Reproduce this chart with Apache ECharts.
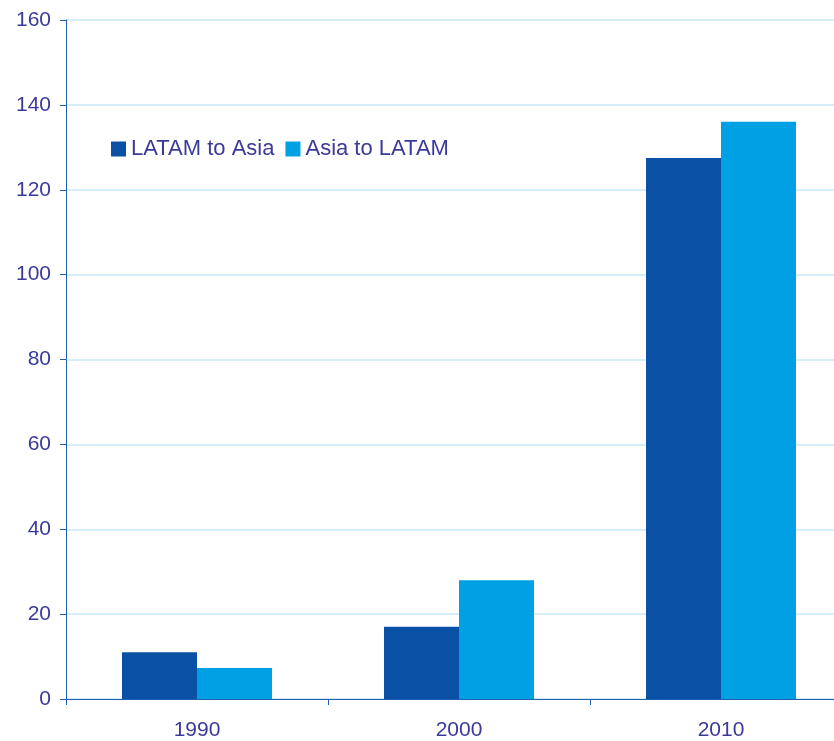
<!DOCTYPE html>
<html>
<head>
<meta charset="utf-8">
<script src="https://cdn.jsdelivr.net/npm/echarts@6/dist/echarts.min.js"></script>
<style>
  html, body { margin: 0; padding: 0; background: #fff; overflow: hidden; }
  /* plot runs past the right edge of the picture, so the canvas is wider than the window */
  #chart { width: 852px; height: 741px; }
</style>
</head>
<body>
<div id="chart"></div>
<script>
var years = ['1990', '2000', '2010'];
var latamToAsia = [11, 17, 127.5];
var asiaToLatam = [7.3, 28, 136];
var seriesNames = ['LATAM to Asia', 'Asia to LATAM'];

var textColor = '#3a3a9a';
var axisColor = '#1f5eb0';

var chart = echarts.init(document.getElementById('chart'));
var option = {
  backgroundColor: '#fff',
  animation: false,
  textStyle: { fontFamily: 'Liberation Sans, Arial, sans-serif' },
  legend: {
    left: 111,
    top: 138,
    padding: 0,
    itemWidth: 15,
    itemHeight: 15,
    itemGap: 11,
    icon: 'rect',
    textStyle: { color: textColor, fontSize: 22 },
    data: seriesNames
  },
  grid: { left: 66, right: 0, top: 20, bottom: 41, containLabel: false },
  xAxis: {
    type: 'category',
    data: years,
    axisLine: { lineStyle: { color: axisColor, width: 1 } },
    axisTick: { show: true, length: 6, lineStyle: { color: axisColor } },
    axisLabel: { color: textColor, fontSize: 21, margin: 21 }
  },
  yAxis: {
    type: 'value',
    min: 0,
    max: 160,
    interval: 20,
    axisLine: { show: true, lineStyle: { color: axisColor, width: 1 } },
    axisTick: { show: true, length: 6, lineStyle: { color: axisColor } },
    axisLabel: { color: textColor, fontSize: 21, margin: 15 },
    splitLine: { lineStyle: { color: '#d6eef9', width: 2 } }
  },
  series: [
    {
      name: seriesNames[0],
      type: 'bar',
      data: latamToAsia,
      barWidth: 75,
      barGap: '0%',
      itemStyle: { color: '#0a50a4' }
    },
    {
      name: seriesNames[1],
      type: 'bar',
      data: asiaToLatam,
      barWidth: 75,
      barGap: '0%',
      itemStyle: { color: '#00a0e4' }
    }
  ]
};
chart.setOption(option);
</script>
</body>
</html>
